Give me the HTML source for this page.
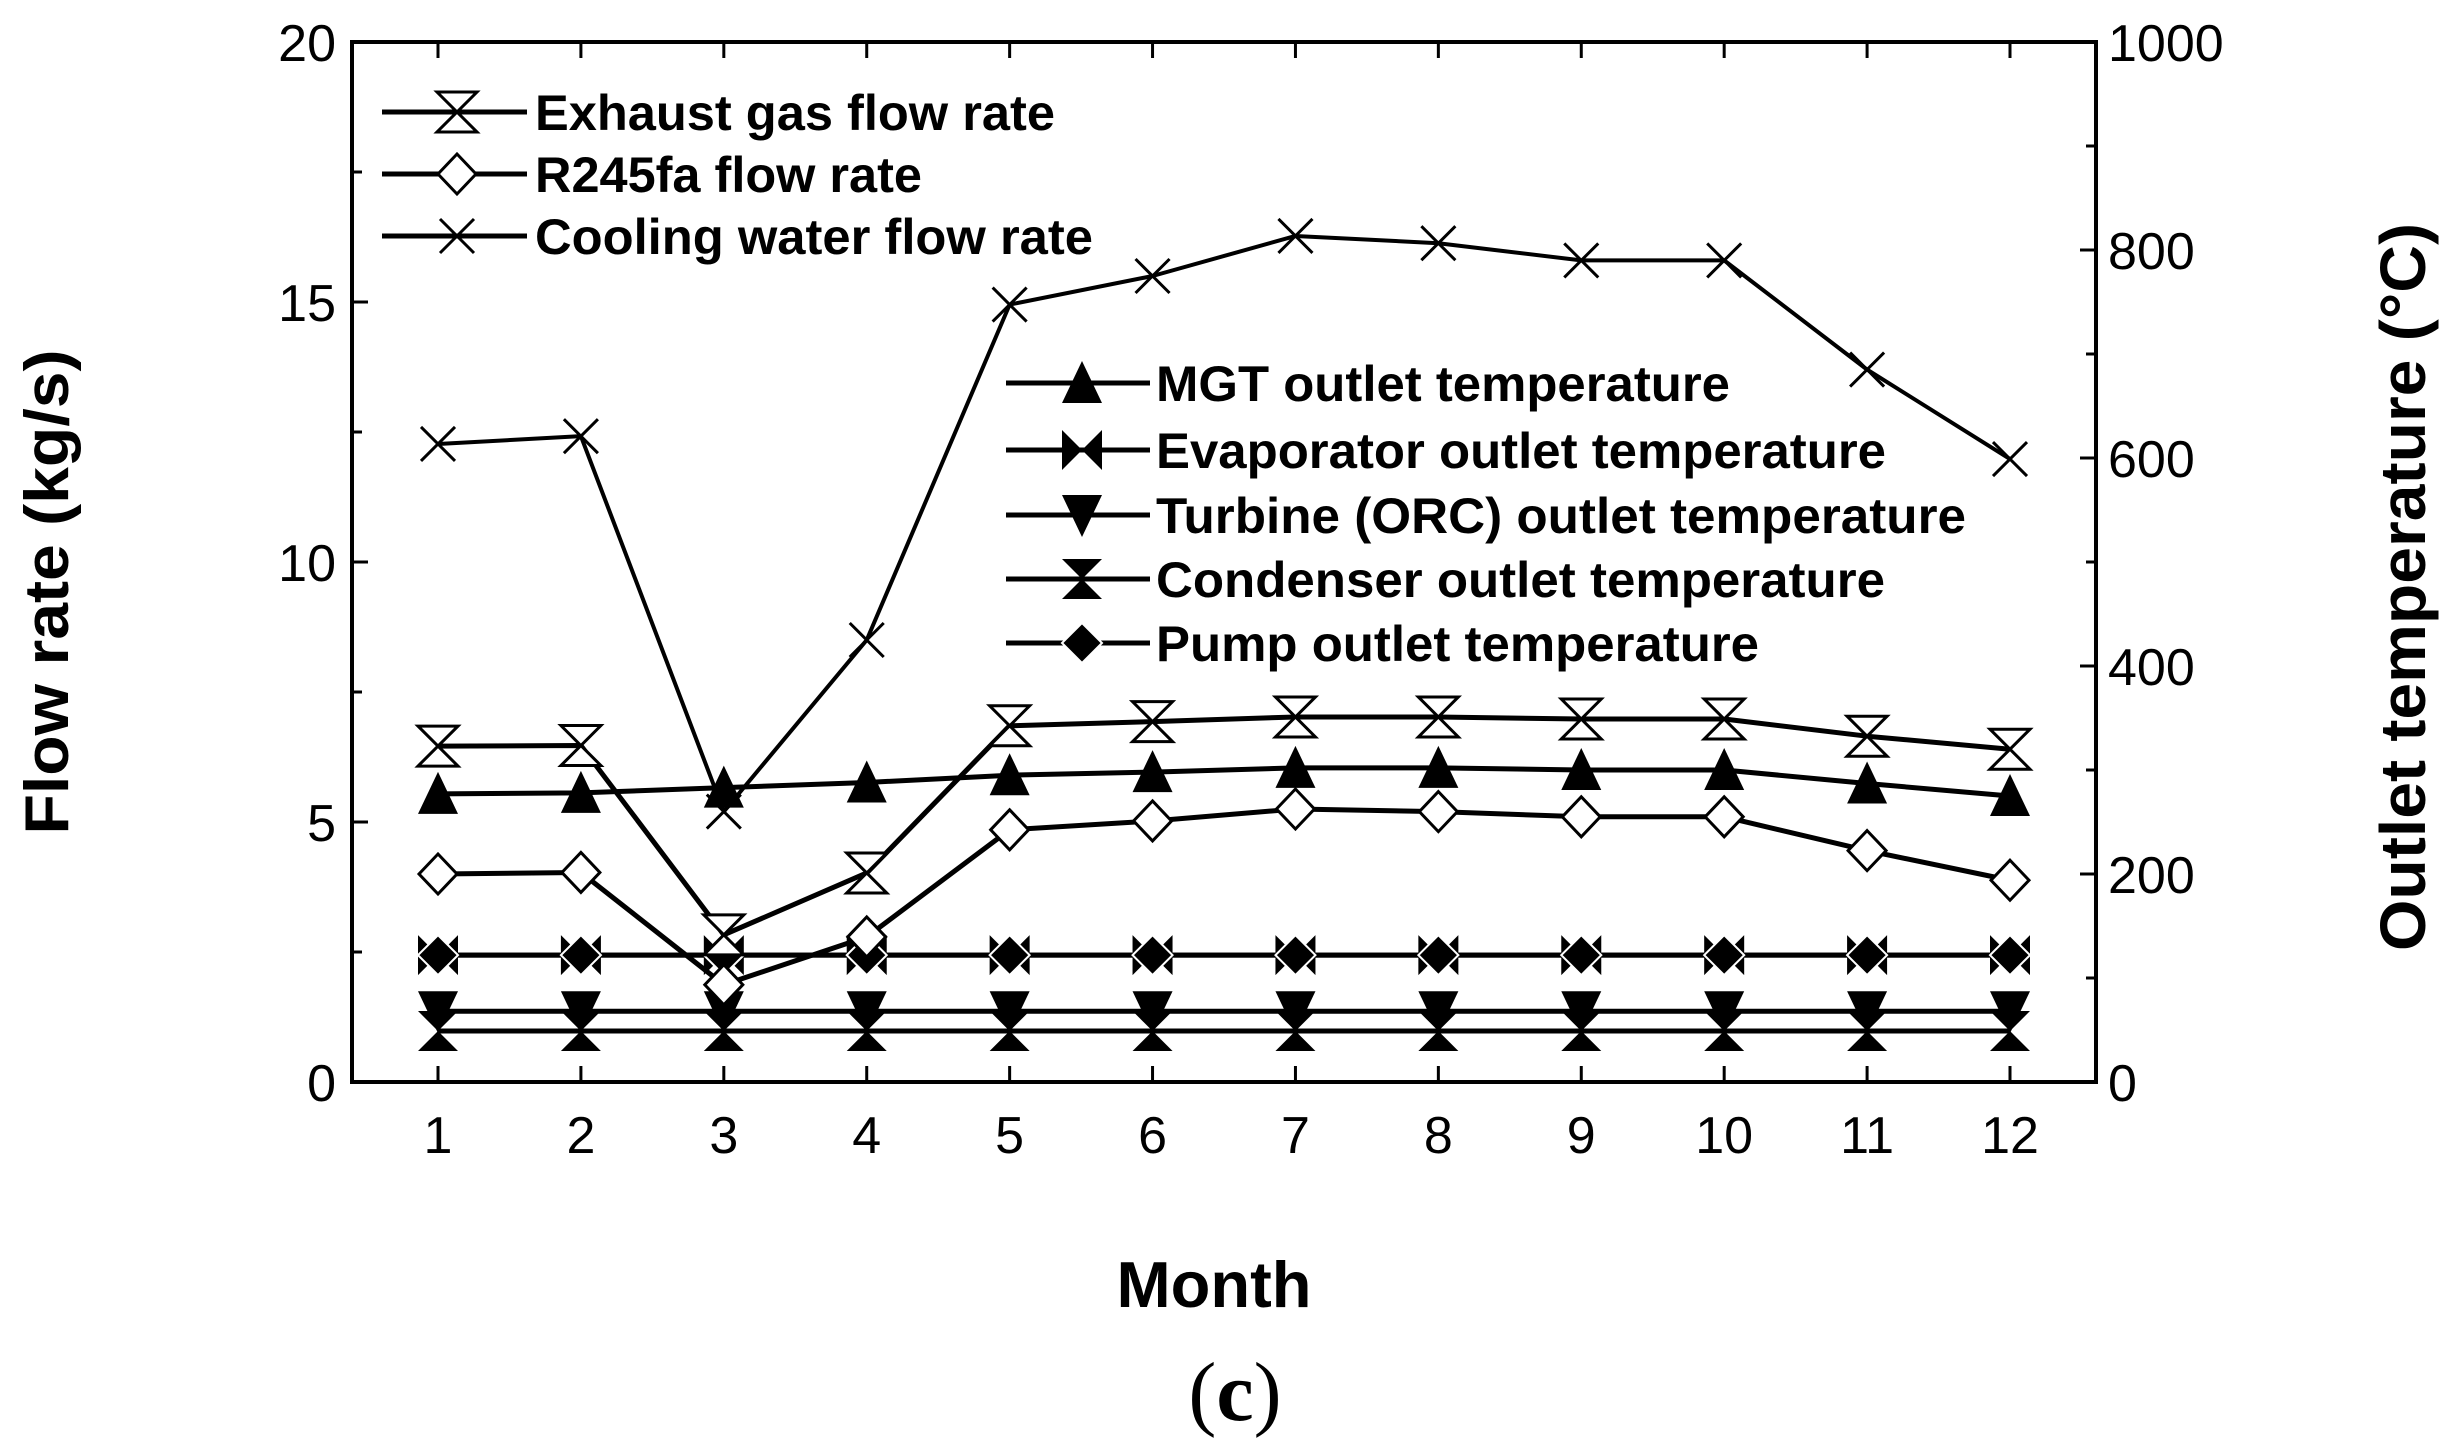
<!DOCTYPE html>
<html><head><meta charset="utf-8"><style>
html,body{margin:0;padding:0;background:#fff;}
svg{display:block;}
text{font-family:"Liberation Sans",sans-serif;fill:#000;}
</style></head><body>
<svg id="chart" width="2455" height="1452" viewBox="0 0 2455 1452" xmlns="http://www.w3.org/2000/svg">
<g id="axes"></g>
<g id="series"></g>
<g id="legend"></g>
<text transform="translate(68,592) rotate(-90)" text-anchor="middle" font-size="62" font-weight="bold" textLength="485" lengthAdjust="spacingAndGlyphs">Flow rate (kg/s)</text>
<text transform="translate(2425,587) rotate(-90)" text-anchor="middle" font-size="64" font-weight="bold" textLength="728" lengthAdjust="spacingAndGlyphs">Outlet temperature (°C)</text>
<text x="1214" y="1307" text-anchor="middle" font-size="65" font-weight="bold" textLength="195" lengthAdjust="spacingAndGlyphs">Month</text>
<text x="1235" y="1420" text-anchor="middle" font-size="84" style="font-family:'Liberation Serif',serif">(<tspan font-weight="bold">c</tspan>)</text>
</svg>
<script>
const months = [1,2,3,4,5,6,7,8,9,10,11,12];
const exhaustFlow = [6.46,6.47,2.83,4.02,6.85,6.93,7.02,7.02,6.98,6.98,6.65,6.4];
const r245faFlow = [4.0,4.03,1.87,2.79,4.85,5.02,5.25,5.2,5.1,5.1,4.45,3.88];
const coolingFlow = [12.27,12.42,5.2,8.5,14.95,15.5,16.27,16.13,15.8,15.8,13.7,11.98];
const mgtTemp = [277,278,283,288,295,298,302,302,300,300,287,275];
const evapTemp = [122,122,122,122,122,122,122,122,122,122,122,122];
const turbineTemp = [68,68,68,68,68,68,68,68,68,68,68,68];
const condenserTemp = [49,49,49,49,49,49,49,49,49,49,49,49];
const pumpTemp = [122,122,122,122,122,122,122,122,122,122,122,122];
const leftTicks = [0,5,10,15,20];
const rightTicks = [0,200,400,600,800,1000];

const NS = "http://www.w3.org/2000/svg";
const L = 352, R = 2096, T = 42, B = 1082;
const xs = m => 438 + (m - 1) * (2010 - 438) / 11;
const yL = v => B - v * (B - T) / 20;
const yR = v => B - v * (B - T) / 1000;

function mk(tag, attrs, parent) {
  const e = document.createElementNS(NS, tag);
  for (const k in attrs) e.setAttribute(k, attrs[k]);
  parent.appendChild(e);
  return e;
}
const axes = document.getElementById('axes');
const series = document.getElementById('series');
const legend = document.getElementById('legend');

const frame = mk('rect', {x:L, y:T, width:R-L, height:B-T, fill:'none', stroke:'#000', 'stroke-width':4}, axes);



months.forEach(m => {
  const x = xs(m);
  const t1 = mk('line', {x1:x, x2:x, y1:B, y2:B-16, stroke:'#000', 'stroke-width':3}, axes);
  
  
  const t2 = mk('line', {x1:x, x2:x, y1:T, y2:T+16, stroke:'#000', 'stroke-width':3}, axes);
  
  
  const lb = mk('text', {x:x, y:1153, 'text-anchor':'middle', 'font-size':52}, axes);
  lb.textContent = m;
  
  
});
for (let v = 0; v <= 20; v += 2.5) {
  const major = v % 5 === 0;
  const tk = mk('line', {x1:L, x2:L+(major?16:10), y1:yL(v), y2:yL(v), stroke:'#000', 'stroke-width':3}, axes);
  
  
}
leftTicks.forEach(v => {
  const lb = mk('text', {x:336, y:yL(v)+19, 'text-anchor':'end', 'font-size':52}, axes);
  lb.textContent = v;
  
  
});
for (let v = 0; v <= 1000; v += 100) {
  const major = v % 200 === 0;
  const tk = mk('line', {x1:R, x2:R-(major?16:10), y1:yR(v), y2:yR(v), stroke:'#000', 'stroke-width':3}, axes);
  
  
}
rightTicks.forEach(v => {
  const lb = mk('text', {x:2108, y:yR(v)+19, 'text-anchor':'start', 'font-size':52}, axes);
  lb.textContent = v;
  
  
});

function marker(type, x, y, parent) {
  const s = 20;
  let e;
  if (type === 'hourglassOpen') {
    e = mk('path', {d:`M${x-s},${y-s}H${x+s}L${x-s},${y+s}H${x+s}Z`, fill:'#fff', stroke:'#000', 'stroke-width':3}, parent);
  } else if (type === 'diamondOpen') {
    e = mk('path', {d:`M${x},${y-s}L${x+s-1},${y}L${x},${y+s}L${x-s+1},${y}Z`, fill:'#fff', stroke:'#000', 'stroke-width':3}, parent);
  } else if (type === 'cross') {
    e = mk('path', {d:`M${x-s+3},${y-s+3}L${x+s-3},${y+s-3}M${x-s+3},${y+s-3}L${x+s-3},${y-s+3}`, fill:'none', stroke:'#000', 'stroke-width':3}, parent);
  } else if (type === 'triUp') {
    e = mk('path', {d:`M${x},${y-s-2}L${x+s},${y+s}L${x-s},${y+s}Z`, fill:'#000'}, parent);
  } else if (type === 'triDown') {
    e = mk('path', {d:`M${x-s},${y-s}L${x+s},${y-s}L${x},${y+s+2}Z`, fill:'#000'}, parent);
  } else if (type === 'bowtie') {
    e = mk('path', {d:`M${x-s},${y-s}L${x},${y}L${x-s},${y+s}ZM${x+s},${y-s}L${x},${y}L${x+s},${y+s}Z`, fill:'#000'}, parent);
  } else if (type === 'hourglass') {
    e = mk('path', {d:`M${x-s},${y-s}H${x+s}L${x-s},${y+s}H${x+s}Z`, fill:'#000'}, parent);
  } else if (type === 'diamond') {
    e = mk('path', {d:`M${x},${y-s}L${x+s},${y}L${x},${y+s}L${x-s},${y}Z`, fill:'#000', stroke:'#fff', 'stroke-width':2}, parent);
  }
  return e;
}

const defs = [
  {name:'condenser', vals:condenserTemp, scale:yR, m:'hourglass', w:5},
  {name:'turbine', vals:turbineTemp, scale:yR, m:'triDown', w:5},
  {name:'evaporator', vals:evapTemp, scale:yR, m:'bowtie', w:5},
  {name:'pump', vals:pumpTemp, scale:yR, m:'diamond', w:5},
  {name:'mgt', vals:mgtTemp, scale:yR, m:'triUp', w:5},
  {name:'r245fa', vals:r245faFlow, scale:yL, m:'diamondOpen', w:5},
  {name:'exhaust', vals:exhaustFlow, scale:yL, m:'hourglassOpen', w:5},
  {name:'cooling', vals:coolingFlow, scale:yL, m:'cross', w:4}
];
defs.forEach(d => {
  const g = mk('g', {}, series);
  
  
  const pts = months.map((m, i) => xs(m) + ',' + d.scale(d.vals[i])).join(' ');
  const pl = mk('polyline', {points:pts, fill:'none', stroke:'#000', 'stroke-width':d.w, 'stroke-linejoin':'round'}, g);
  
  
  months.forEach((m, i) => {
    const mm = marker(d.m, xs(m), d.scale(d.vals[i]), g);
    
    
  });
});

const leg1 = [
  {label:'Exhaust gas flow rate', m:'hourglassOpen', y:112, len:520},
  {label:'R245fa flow rate', m:'diamondOpen', y:174, len:387},
  {label:'Cooling water flow rate', m:'cross', y:236, len:558}
];
leg1.forEach(e => {
  const g = mk('g', {}, legend);
  
  
  mk('line', {x1:382, x2:527, y1:e.y, y2:e.y, stroke:'#000', 'stroke-width':5}, g);
  marker(e.m, 457, e.y, g);
  const t = mk('text', {x:535, y:e.y+18, 'font-size':50, 'font-weight':'bold', textLength:e.len, lengthAdjust:'spacingAndGlyphs'}, g);
  t.textContent = e.label;
});
const leg2 = [
  {label:'MGT outlet temperature', m:'triUp', y:383, len:574},
  {label:'Evaporator outlet temperature', m:'bowtie', y:450, len:730},
  {label:'Turbine (ORC) outlet temperature', m:'triDown', y:515, len:810},
  {label:'Condenser outlet temperature', m:'hourglass', y:579, len:729},
  {label:'Pump outlet temperature', m:'diamond', y:643, len:603}
];
leg2.forEach(e => {
  const g = mk('g', {}, legend);
  
  
  mk('line', {x1:1006, x2:1150, y1:e.y, y2:e.y, stroke:'#000', 'stroke-width':5}, g);
  marker(e.m, 1082, e.y, g);
  const t = mk('text', {x:1156, y:e.y+18, 'font-size':50, 'font-weight':'bold', textLength:e.len, lengthAdjust:'spacingAndGlyphs'}, g);
  t.textContent = e.label;
});
</script>
</body></html>
